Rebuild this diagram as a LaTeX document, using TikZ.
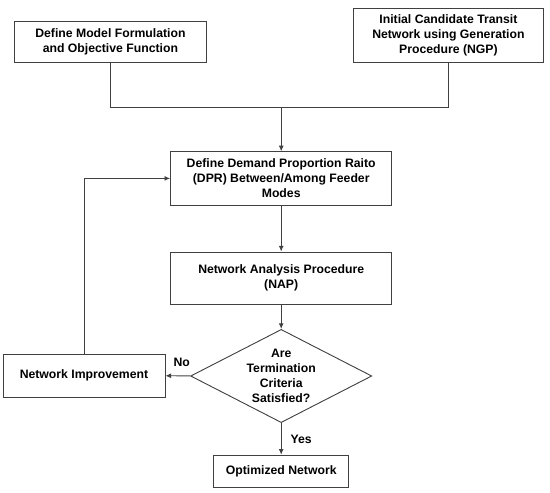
\documentclass[tikz,border=0pt]{standalone}
\usepackage{fontspec}
\setmainfont{Liberation Sans}
\usetikzlibrary{arrows.meta, shapes.geometric}

\begin{document}
\begin{tikzpicture}[
  box/.style={draw=black!75,rectangle,align=center,inner sep=2pt,
    font=\fontsize{8.7}{10.8}\selectfont\bfseries},
  decision/.style={draw=black!75,diamond,aspect=2,align=center,
    inner sep=-6pt,font=\fontsize{8.7}{10.6}\selectfont\bfseries},
  link/.style={draw=black!75},
  flow/.style={draw=black!75,->},
  line width=0.65pt,>={Latex[length=4pt,width=3.5pt]}]
  \useasboundingbox (0,0) rectangle (13.75,-12.3);
  \node[box,minimum width=4.78cm,minimum height=1.03cm] (Model) at (2.76,-1.04)
    {Define Model Formulation\\and Objective Function};
  \node[box,minimum width=4.73cm,minimum height=1.35cm] (NGP) at (11.21,-0.88)
    {Initial Candidate Transit\\Network using Generation\\Procedure (NGP)};
  \node[box,minimum width=5.53cm,minimum height=1.33cm] (DPR) at (7.03,-4.46)
    {Define Demand Proportion Raito\\(DPR) Between/Among Feeder\\Modes};
  \node[box,minimum width=5.53cm,minimum height=1.3cm] (NAP) at (7.03,-6.95)
    {Network Analysis Procedure\\(NAP)};
  \node[decision,minimum width=4.53cm,minimum height=2.33cm] (Term) at (7.03,-9.4)
    {Are\\Termination\\Criteria\\Satisfied?};
  \node[box,minimum width=4.05cm,minimum height=1.08cm] (Improve) at (2.1,-9.39)
    {Network Improvement};
  \node[box,minimum width=3.38cm,minimum height=0.8cm] (Opt) at (7.03,-11.78)
    {Optimized Network};
  \coordinate (Join) at (7.03,-2.68);
  \draw[link] (Model.south) |- (Join);
  \draw[link] (NGP.south) |- (Join);
  \draw[flow] (Join) -- (DPR);
  \draw[flow] (DPR) -- (NAP);
  \draw[flow] (NAP) -- (Term);
  \draw[flow] (Term) -- node[pos=0.35,above=3pt,font=\fontsize{8.7}{10.6}\selectfont\bfseries]{No} (Improve);
  \draw[flow] (Improve.north) |- (DPR.west);
  \draw[flow] (Term) -- node[right=3pt,font=\fontsize{8.7}{10.6}\selectfont\bfseries]{Yes} (Opt);
\end{tikzpicture}
\end{document}
